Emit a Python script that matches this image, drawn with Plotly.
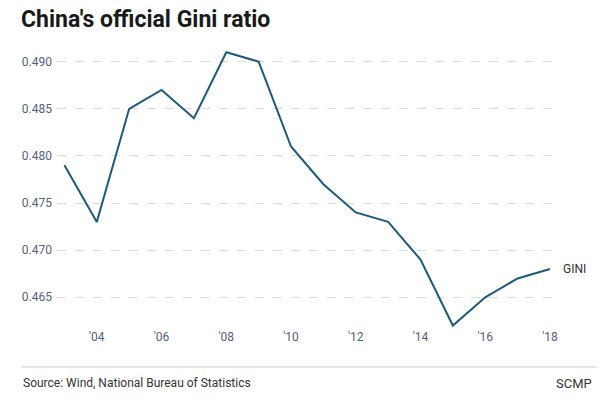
import plotly.graph_objects as go

years = [2003, 2004, 2005, 2006, 2007, 2008, 2009, 2010, 2011, 2012, 2013, 2014, 2015, 2016, 2017, 2018]
gini = [0.479, 0.473, 0.485, 0.487, 0.484, 0.491, 0.490, 0.481, 0.477, 0.474, 0.473, 0.469, 0.462, 0.465, 0.467, 0.468]
tick_years = [2004, 2006, 2008, 2010, 2012, 2014, 2016, 2018]
tick_labels = ["'04", "'06", "'08", "'10", "'12", "'14", "'16", "'18"]
y_ticks = [0.465, 0.470, 0.475, 0.480, 0.485, 0.490]

LINE = "#1d5a7e"
TICK = "#55617a"

fig = go.Figure()
fig.add_trace(go.Scatter(x=years, y=gini, mode="lines",
                         line=dict(color=LINE, width=2), hoverinfo="x+y"))
fig.add_annotation(x=years[-1], y=gini[-1], text="GINI", xref="x", yref="y",
                   xanchor="left", yanchor="middle", xshift=11, showarrow=False,
                   font=dict(size=12, color="#333333", family="Roboto"))

fig.update_layout(
    width=604, height=406,
    margin=dict(l=57, r=44, t=45, b=78),
    paper_bgcolor="white", plot_bgcolor="white",
    showlegend=False,
    font=dict(family="Roboto", color=TICK),
    title=dict(text="<b>China's official Gini ratio</b>", x=21 / 604, xref="container", xanchor="left",
               y=1 - 19 / 406, yanchor="middle", yref="container",
               font=dict(size=23, color="#1a1a1a", family="Roboto")),
    xaxis=dict(range=[2002.77, 2018.31], tickvals=tick_years, ticktext=tick_labels,
               showgrid=False, zeroline=False, showline=False, ticks="",
               tickfont=dict(size=12, color=TICK)),
    yaxis=dict(range=[0.46174, 0.49177], tickvals=y_ticks, tickformat=".3f",
               showgrid=True, gridcolor="#dcdcdc", griddash="dash", gridwidth=1,
               zeroline=False, showline=False, ticks="", ticklabelstandoff=4,
               tickfont=dict(size=12, color=TICK)),
)

fig.add_shape(type="line", xref="paper", yref="paper",
              x0=(21 - 57) / 503, x1=(596 - 57) / 503,
              y0=(406 - 78 - 367) / 283, y1=(406 - 78 - 367) / 283,
              line=dict(color="#cccccc", width=1))
fig.add_annotation(text="Source: Wind, National Bureau of Statistics", xref="paper", yref="paper",
                   x=(21 - 57) / 503, y=(328 - 383) / 283, xanchor="left", yanchor="middle",
                   showarrow=False, font=dict(size=12, color="#333333", family="Roboto"))
fig.add_annotation(text="SCMP", xref="paper", yref="paper",
                   x=(594 - 57) / 503, y=(328 - 383) / 283, xanchor="right", yanchor="middle",
                   showarrow=False, font=dict(size=13, color="#333333", family="Roboto"))

fig.write_html("out.html", config={"displayModeBar": False},
               post_script="document.body.style.margin='0';document.body.style.overflow='hidden';")
